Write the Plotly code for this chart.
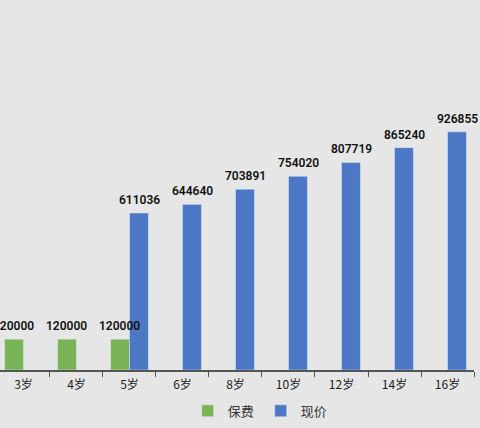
import plotly.graph_objects as go

categories = ["3岁", "4岁", "5岁", "6岁", "8岁", "10岁", "12岁", "14岁", "16岁"]
baofei = [120000, 120000, 120000, None, None, None, None, None, None]
xianjia = [None, None, 611036, 644640, 703891, 754020, 807719, 865240, 926855]

GREEN = "#78b456"
BLUE = "#4b77c4"
BG = "#e6e6e6"

fig = go.Figure()
fig.add_trace(go.Bar(x=categories, y=baofei, name="保费", marker=dict(color=GREEN)))
fig.add_trace(go.Bar(x=categories, y=xianjia, name="现价", marker=dict(color=BLUE)))

# value labels on top so the 5岁 green label sits in front of the blue bar
labels = []
for shift, series in [(-0.18, baofei), (0.18, xianjia)]:
    for i, v in enumerate(series):
        if v is None:
            continue
        labels.append(dict(
            x=i + shift, y=v, xref="x", yref="y",
            text=str(v), showarrow=False,
            yanchor="bottom", yshift=4,
            font=dict(family="Roboto", size=12, color="#111111", weight=600),
        ))

fig.update_layout(
    width=480, height=428,
    barmode="group",
    bargap=0.285,
    bargroupgap=0,
    plot_bgcolor=BG,
    paper_bgcolor=BG,
    font=dict(family="Noto Sans CJK SC", size=12, color="#333333"),
    margin=dict(l=0, r=6, t=0, b=58, autoexpand=False),
    annotations=labels,
    xaxis=dict(
        range=[-0.443, 8.5],
        showline=True, linecolor="#555555", linewidth=1.5,
        ticks="outside", ticklen=5, tickcolor="#555555",
        tickson="boundaries",
        ticklabelstandoff=3,
        showgrid=False,
        tickfont=dict(family="Noto Sans CJK SC", size=12, color="#222222"),
    ),
    yaxis=dict(range=[0, 1440000], visible=False, showgrid=False),
    legend=dict(
        orientation="h",
        yref="container", y=0.04, yanchor="middle",
        x=0.55, xanchor="center",
        font=dict(family="Noto Sans CJK SC", size=13, color="#333333"),
        entrywidth=28, itemwidth=30,
    ),
)

fig.write_html(
    "out.html",
    config={"displayModeBar": False},
    post_script="document.body.style.margin='0';",
)
